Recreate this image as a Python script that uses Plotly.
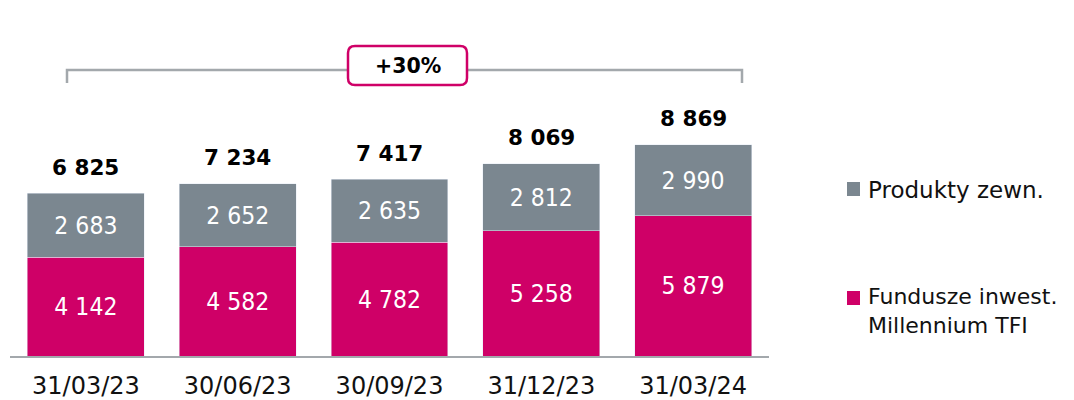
import plotly.graph_objects as go

categories = ["31/03/23", "30/06/23", "30/09/23", "31/12/23", "31/03/24"]
fundusze = [4142, 4582, 4782, 5258, 5879]
produkty = [2683, 2652, 2635, 2812, 2990]
totals = [6825, 7234, 7417, 8069, 8869]
growth_label = "+30%"
name_produkty = "Produkty zewn."
name_fundusze = "Fundusze inwest.<br>Millennium TFI"

PINK = "#cf0067"
GRAY = "#7b8790"
LINE = "#a3a8ac"
FONT_C = "DejaVu Sans Condensed, DejaVu Sans, sans-serif"
FONT = "DejaVu Sans, sans-serif"

W, H = 1074, 400
OFF = 8  # page body margin
# plot area in page pixels
PL, PR, PT, PB = 10, 769, 20, 356
pw, ph = PR - PL, PB - PT


def px(x):
    return (x - PL) / pw


def py(y):
    return (PB - y) / ph


def fmt(v):
    return f"{v:,}".replace(",", " ")


fig = go.Figure()
fig.add_trace(go.Bar(
    x=categories, y=fundusze, name="Fundusze inwest. Millennium TFI", marker_color=PINK,
    text=[fmt(v) for v in fundusze], textposition="inside",
    insidetextanchor="middle", textfont=dict(color="white", size=24.5, family=FONT_C),
    constraintext="none", width=0.77,
))
fig.add_trace(go.Bar(
    x=categories, y=produkty, name=name_produkty, marker_color=GRAY,
    text=[fmt(v) for v in produkty], textposition="inside",
    insidetextanchor="middle", textfont=dict(color="white", size=24.5, family=FONT_C),
    constraintext="none", width=0.77,
))

annotations = []
for c, t in zip(categories, totals):
    annotations.append(dict(
        x=c, y=t, xref="x", yref="y", text=f"<b>{fmt(t)}</b>", showarrow=False,
        yanchor="middle", yshift=26, font=dict(size=21.5, color="#000", family=FONT),
    ))

# growth box text
annotations.append(dict(
    x=px(407.5), y=py(66.5), xref="paper", yref="paper", text=f"<b>{growth_label}</b>",
    showarrow=False, xanchor="center", yanchor="middle",
    font=dict(size=20.5, color="#000", family=FONT),
))

# legend texts
annotations.append(dict(x=px(866), y=py(190), xref="paper", yref="paper",
                        text=name_produkty, showarrow=False, xanchor="left", yanchor="middle",
                        font=dict(size=23, color="#111", family=FONT)))
annotations.append(dict(x=px(866), y=py(311), xref="paper", yref="paper",
                        text=name_fundusze, showarrow=False, xanchor="left", yanchor="middle",
                        align="left", font=dict(size=22, color="#111", family=FONT)))

shapes = []
# bracket
shapes.append(dict(
    type="path", xref="paper", yref="paper",
    path=f"M {px(67)},{py(83)} L {px(67)},{py(70)} L {px(742)},{py(70)} L {px(742)},{py(83)}",
    line=dict(color=LINE, width=2.5),
))
# rounded box
x0, x1, y0, y1, r = 348, 467, 46, 85, 7
path = (
    f"M {px(x0 + r)},{py(y0)} L {px(x1 - r)},{py(y0)} Q {px(x1)},{py(y0)} {px(x1)},{py(y0 + r)} "
    f"L {px(x1)},{py(y1 - r)} Q {px(x1)},{py(y1)} {px(x1 - r)},{py(y1)} "
    f"L {px(x0 + r)},{py(y1)} Q {px(x0)},{py(y1)} {px(x0)},{py(y1 - r)} "
    f"L {px(x0)},{py(y0 + r)} Q {px(x0)},{py(y0)} {px(x0 + r)},{py(y0)} Z"
)
shapes.append(dict(type="path", xref="paper", yref="paper", path=path,
                   line=dict(color=PINK, width=2.5), fillcolor="white"))
# legend squares
shapes.append(dict(type="rect", xref="paper", yref="paper",
                   x0=px(847), x1=px(860), y0=py(196), y1=py(182),
                   fillcolor=GRAY, line=dict(width=0)))
shapes.append(dict(type="rect", xref="paper", yref="paper",
                   x0=px(847), x1=px(860), y0=py(305), y1=py(291),
                   fillcolor=PINK, line=dict(width=0)))

fig.update_layout(
    width=W, height=H, barmode="stack", showlegend=False,
    margin=dict(l=PL - OFF, r=W - (PR - OFF), t=PT - OFF, b=H - (PB - OFF), pad=0),
    paper_bgcolor="white", plot_bgcolor="white",
    font=dict(family=FONT, color="#000"),
    annotations=annotations, shapes=shapes,
    xaxis=dict(showline=True, linecolor=LINE, linewidth=2, showgrid=False,
               ticks="", tickfont=dict(size=24, color="#111", family=FONT),
               ticklabelstandoff=7, range=[-0.5, 4.5]),
    yaxis=dict(visible=False, range=[0, ph / 0.02383]),
)

fig.write_html("out.html")
